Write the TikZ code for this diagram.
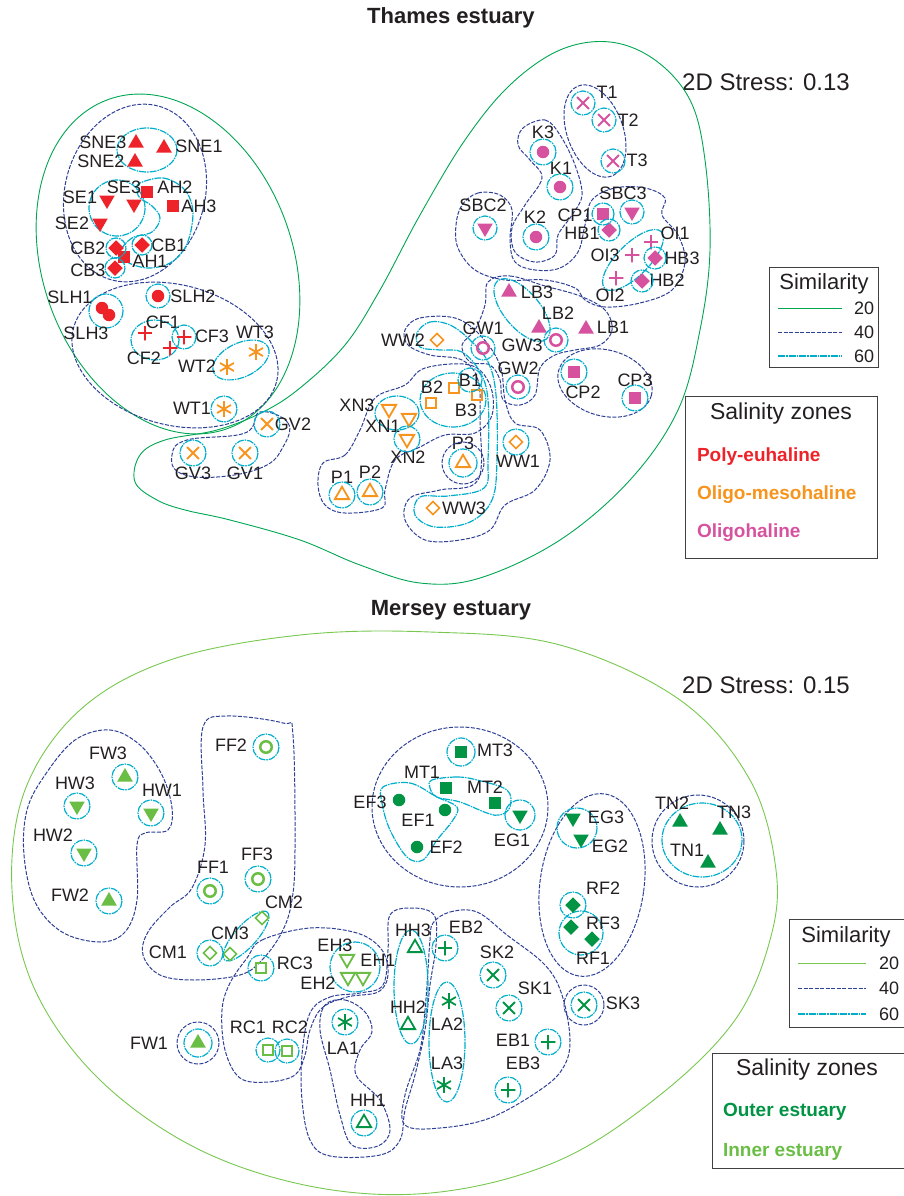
\documentclass[tikz,border=0pt]{standalone}
\usepackage{fontspec}
\setmainfont{Liberation Sans}
\usetikzlibrary{shapes.geometric}
\definecolor{tred}{RGB}{237,35,41}
\definecolor{tora}{RGB}{247,148,29}
\definecolor{tpink}{RGB}{214,82,158}
\definecolor{mdk}{RGB}{0,148,68}
\definecolor{mlt}{RGB}{106,189,69}
\definecolor{gT}{RGB}{0,166,81}
\definecolor{gM}{RGB}{120,200,80}
\definecolor{bl40}{RGB}{46,64,150}
\definecolor{cy60}{RGB}{0,174,204}
\definecolor{txt}{RGB}{35,31,32}
\tikzset{
 mk/.style={inner sep=0pt,outer sep=0pt},
 tU/.style={mk,regular polygon,regular polygon sides=3,minimum size=18pt,fill=#1},
 tD/.style={tU=#1,shape border rotate=180},
 otU/.style={mk,regular polygon,regular polygon sides=3,minimum size=16.5pt,draw=#1,line width=1.8pt},
 otD/.style={otU=#1,shape border rotate=180},
 sqf/.style={mk,rectangle,minimum size=12.5pt,fill=#1},
 sqo/.style={mk,rectangle,minimum size=10.5pt,draw=#1,line width=1.7pt},
 dmf/.style={mk,diamond,minimum size=15.5pt,fill=#1},
 dmo/.style={mk,diamond,minimum size=13pt,draw=#1,line width=1.7pt},
 dotf/.style={mk,circle,minimum size=12.5pt,fill=#1},
 rng/.style={mk,circle,minimum size=11.5pt,draw=#1,line width=2.5pt},
 plm/.style={mk,circle,minimum size=15pt,path picture={\draw[#1,line width=1.8pt] (path picture bounding box.north) -- (path picture bounding box.south) (path picture bounding box.west) -- (path picture bounding box.east);}},
 xmk/.style={mk,circle,minimum size=17pt,path picture={\draw[#1,line width=1.8pt] (path picture bounding box.north east) -- (path picture bounding box.south west) (path picture bounding box.north west) -- (path picture bounding box.south east);}},
 ast/.style={mk,circle,minimum size=17pt,path picture={\foreach \a in {90,30,150} \draw[#1,line width=1.8pt] ([shift={(\a:8pt)}]path picture bounding box.center) -- ([shift={(\a+180:8pt)}]path picture bounding box.center);}},
 lbl/.style={mk,text=txt,font=\fontsize{18}{20}\selectfont},
 s20T/.style={gT,line width=0.9pt},
 s20M/.style={gM,line width=0.9pt},
 s40/.style={bl40,line width=1pt,dash pattern=on 4pt off 1.5pt},
 s60/.style={cy60,line width=1.2pt,dash pattern=on 7pt off 1pt on 1.5pt off 1pt},
}
\newcommand\SP[5]{\node[#1=#2] (#3) at (#4) {}; \node[lbl] (L#3) at (#5) {#3};}
\newcommand\EL[5]{\draw[#1,rotate around={#5:(#2)}] (#2) ellipse[x radius=#3,y radius=#4];}
\begin{document}
\begin{tikzpicture}[x=1pt,y=-1pt]
\useasboundingbox (0,0) rectangle (903,1196);
% ================= THAMES =================
\node[mk,font=\fontsize{22}{24}\selectfont\bfseries,text=txt] (titleT) at (451,18) {Thames estuary};
\node[mk,font=\fontsize{24}{26}\selectfont,text=txt] (stressT) at (766,82) {2D Stress: 0.13};
% 20% contours
\EL{s20T}{168,264}{125}{175}{20}
\draw[s20T] plot[smooth cycle,tension=0.6] coordinates {(263,412) (300,388) (345,345) (380,290) (420,215) (465,140) (510,85) (560,50) (610,42) (655,60) (690,100) (705,160) (710,250) (700,330) (678,410) (630,480) (560,540) (480,578) (420,583) (360,565) (300,540) (230,520) (185,510) (157,500) (135,482) (140,455) (165,440) (217,430)};
% 40% contours
\EL{s40}{135,193}{70}{90}{-15}
\EL{s40}{175,355}{105}{70}{-15}
\draw[s40] plot[smooth cycle,tension=0.7] coordinates {(260,412) (288,423) (283,447) (263,467) (217,477) (180,473) (172,455) (187,440) (245,433)};
\EL{s40}{595,131}{28}{48}{20}
\draw[s40] plot[smooth cycle,tension=0.6] coordinates {(523,128) (545,120) (560,135) (575,165) (582,195) (572,215) (558,235) (555,255) (535,262) (515,252) (512,228) (525,205) (542,178) (530,160) (518,145)};
\draw[s40] plot[smooth cycle,tension=0.6] coordinates {(462,205) (478,193) (500,195) (512,210) (510,240) (515,262) (535,270) (560,268) (578,252) (585,225) (592,200) (615,188) (645,188) (665,198) (662,215) (678,235) (685,262) (672,290) (640,303) (605,307) (585,300) (575,288) (545,280) (505,280) (475,270) (458,248) (456,225)};
\draw[s40] plot[smooth cycle,tension=0.6] coordinates {(488,282) (510,276) (545,286) (580,296) (605,310) (612,330) (600,345) (575,350) (555,355) (540,368) (535,395) (520,405) (503,400) (500,380) (490,365) (470,362) (462,345) (475,330) (485,305)};
\EL{s40}{605,383}{48}{33}{-15}
\draw[s40] plot[smooth cycle,tension=0.6] coordinates {(405,330) (420,318) (455,318) (480,335) (500,365) (505,400) (515,423) (540,430) (550,460) (535,490) (505,505) (490,530) (460,540) (425,540) (405,520) (410,498) (440,490) (478,480) (480,420) (478,380) (462,360) (430,355) (408,345)};
\draw[s40] plot[smooth cycle,tension=0.6] coordinates {(323,463) (345,455) (360,430) (375,398) (405,385) (425,368) (470,365) (490,385) (492,415) (475,433) (445,435) (420,447) (395,460) (385,490) (382,508) (345,513) (325,505) (318,485)};
% 60% contours
\EL{s60}{147,150}{30}{22}{0}
\draw[s60] (117,208) circle[radius=28];
\draw[s60] plot[smooth cycle,tension=0.6] coordinates {(140,183) (163,178) (183,188) (192,205) (192,225) (185,248) (170,263) (148,268) (127,262) (120,252) (132,238) (152,232) (160,218) (152,206) (140,198) (137,190)};
\draw[s60] plot[smooth cycle,tension=0.6] coordinates {(417,333) (430,322) (450,325) (470,340) (488,362) (496,395) (497,460) (492,500) (470,522) (435,527) (415,515) (420,497) (448,496) (484,488) (488,460) (488,400) (480,372) (462,352) (440,350) (420,347)};
\EL{s60}{155,340}{24}{20}{0}
\EL{s60}{241,360}{30}{17}{25}
\EL{s60}{522,310}{38}{18}{-50}
\EL{s60}{633,260}{40}{16}{45}
\EL{s60}{453,400}{33}{27}{0}
\EL{s60}{397,413}{22}{17}{0}
\draw[s60] (106,311) circle[radius=17];
% points Thames
\SP{tU}{tred}{SNE3}{136,143}{103,142}
\SP{tU}{tred}{SNE1}{164,148}{199,146}
\SP{tU}{tred}{SNE2}{135,162}{101,161}
\SP{tD}{tred}{SE3}{134,204}{124,187}
\SP{sqf}{tred}{AH2}{147,192}{175,187}
\SP{tD}{tred}{SE1}{107,200}{80,197}
\SP{sqf}{tred}{AH3}{173,206}{199,206}
\SP{tD}{tred}{SE2}{100,223}{72,223}
\SP{dmf}{tred}{CB2}{116,248}{88,248}
\SP{dmf}{tred}{CB1}{142,245}{169,245}
\SP{sqf}{tred}{AH1}{124,257}{150,261}
\SP{dmf}{tred}{CB3}{115,268}{88,270}
\SP{dotf}{tred}{SLH1}{102,308}{70,297}
\SP{dotf}{tred}{SLH3}{109,315}{86,333}
\SP{dotf}{tred}{SLH2}{158,296}{193,296}
\SP{plm}{tred}{CF1}{145,333}{163,322}
\SP{plm}{tred}{CF2}{170,348}{144,358}
\SP{plm}{tred}{CF3}{184,337}{212,336}
\SP{ast}{tora}{WT3}{256,352}{255,332}
\SP{ast}{tora}{WT2}{227,367}{197,366}
\SP{ast}{tora}{WT1}{224,409}{192,408}
\SP{xmk}{tora}{GV2}{267,424}{293,424}
\SP{xmk}{tora}{GV3}{193,453}{193,473}
\SP{xmk}{tora}{GV1}{245,453}{245,473}
\SP{xmk}{tpink}{T1}{583,103}{607,92}
\SP{xmk}{tpink}{T2}{604,120}{628,120}
\SP{xmk}{tpink}{T3}{613,161}{637,160}
\SP{dotf}{tpink}{K3}{543,152}{543,132}
\SP{dotf}{tpink}{K1}{560,187}{561,168}
\SP{dotf}{tpink}{K2}{536,237}{535,217}
\SP{tD}{tpink}{SBC2}{485,228}{483,205}
\SP{sqf}{tpink}{CP1}{603,214}{575,215}
\SP{dmf}{tpink}{HB1}{609,230}{582,233}
\SP{tD}{tpink}{SBC3}{632,212}{623,193}
\SP{plm}{tpink}{OI1}{651,242}{675,233}
\SP{plm}{tpink}{OI3}{632,255}{605,255}
\SP{dmf}{tpink}{HB3}{655,258}{682,258}
\SP{plm}{tpink}{OI2}{616,278}{610,295}
\SP{dmf}{tpink}{HB2}{642,281}{667,280}
\SP{tU}{tpink}{LB3}{509,292}{537,292}
\SP{tU}{tpink}{LB2}{539,328}{558,313}
\SP{tU}{tpink}{LB1}{586,329}{613,327}
\SP{rng}{tpink}{GW1}{483,348}{483,328}
\SP{rng}{tpink}{GW3}{556,340}{522,345}
\SP{rng}{tpink}{GW2}{518,387}{518,368}
\SP{sqf}{tpink}{CP2}{574,372}{583,392}
\SP{sqf}{tpink}{CP3}{635,398}{635,380}
\SP{dmo}{tora}{WW2}{437,340}{403,340}
\SP{sqo}{tora}{B2}{431,403}{432,387}
\SP{sqo}{tora}{B1}{454,388}{470,380}
\SP{sqo}{tora}{B3}{477,395}{466,410}
\SP{otD}{tora}{XN3}{389,409}{357,405}
\SP{otD}{tora}{XN1}{409,418}{383,426}
\SP{otD}{tora}{XN2}{407,439}{408,457}
\SP{otU}{tora}{P3}{463,463}{463,443}
\SP{otU}{tora}{P1}{342,495}{342,477}
\SP{otU}{tora}{P2}{370,492}{370,472}
\SP{dmo}{tora}{WW1}{516,442}{518,461}
\SP{dmo}{tora}{WW3}{433,508}{464,508}
% single cyan circles Thames
\foreach \n/\r in {CB1/10,CB2/10,CB3/10,SLH2/12,CF3/12,WT1/13,GV1/13,GV2/13,GV3/13,T1/12,T2/12,T3/12,K1/13,K2/13,K3/13,SBC2/12,SBC3/12,CP1/11,HB1/11,HB3/11,HB2/11,LB1/12,GW1/12,GW3/12,GW2/12,CP2/13,CP3/13,XN2/13,P3/14,P1/13,P2/13,WW1/13}
  \draw[s60] (\n) circle[radius=\r];
\draw[s40] (P3) circle[radius=21];
% legends Thames
\draw[black!75,line width=0.8pt] (769,267) rectangle (878,367);
\node[mk,font=\fontsize{22}{24}\selectfont,text=txt] (simT) at (824,284) {Similarity};
\draw[s20T] (778,308) -- (842,308);
\draw[s40] (778,332) -- (842,332);
\draw[s60] (778,356) -- (842,356);
\node[lbl] (s20t) at (864,308) {20};
\node[lbl] (s40t) at (864,332) {40};
\node[lbl] (s60t) at (864,356) {60};
\draw[black!75,line width=0.8pt] (685,396) rectangle (877,558);
\node[mk,font=\fontsize{23}{25}\selectfont,text=txt] (salT) at (781,414) {Salinity zones};
\node[mk,anchor=west,font=\fontsize{19}{21}\selectfont\bfseries,text=tred] (zone1) at (697,457) {Poly-euhaline};
\node[mk,anchor=west,font=\fontsize{19}{21}\selectfont\bfseries,text=tora] (zone2) at (697,495) {Oligo-mesohaline};
\node[mk,anchor=west,font=\fontsize{19}{21}\selectfont\bfseries,text=tpink] (zone3) at (697,533) {Oligohaline};
% ================= MERSEY =================
\node[mk,font=\fontsize{22}{24}\selectfont\bfseries,text=txt] (titleM) at (451,610) {Mersey estuary};
\node[mk,font=\fontsize{24}{26}\selectfont,text=txt] (stressM) at (766,685) {2D Stress: 0.15};
\draw[s20M] plot[smooth cycle,tension=0.6] coordinates {(430,632) (560,645) (680,700) (750,780) (776,870) (770,940) (735,1020) (660,1095) (560,1160) (440,1192) (320,1188) (200,1150) (100,1080) (35,990) (12,890) (25,790) (80,710) (170,660) (300,635)};
% 40%
\draw[s40] plot[smooth cycle,tension=0.6] coordinates {(27,810) (45,775) (75,740) (110,730) (140,745) (162,775) (172,808) (168,830) (145,833) (137,845) (137,900) (125,932) (100,942) (62,932) (35,902) (24,855)};
\draw[s40] plot[smooth cycle,tension=0.6] coordinates {(203,727) (227,716) (283,723) (293,735) (295,850) (292,900) (282,932) (262,960) (240,975) (195,980) (160,975) (143,955) (148,932) (170,907) (192,888) (205,845) (203,790)};
\draw[s40] plot[smooth cycle,tension=0.6] coordinates {(247,958) (262,940) (310,928) (357,933) (382,950) (388,975) (378,992) (347,997) (322,1008) (310,1030) (305,1055) (295,1075) (268,1082) (240,1078) (225,1050) (222,1010) (230,983)};
\draw[s40] plot[smooth cycle,tension=0.6] coordinates {(325,1005) (345,1000) (365,1012) (372,1032) (360,1050) (356,1075) (380,1100) (390,1130) (378,1146) (352,1145) (340,1115) (330,1070) (320,1030)};
\draw[s40] plot[smooth cycle,tension=0.6] coordinates {(310,1013) (330,997) (360,993) (383,985) (388,950) (390,915) (412,908) (434,915) (436,945) (430,985) (425,1030) (415,1075) (405,1110) (400,1140) (380,1155) (330,1156) (310,1140) (302,1100) (302,1055)};
\draw[s40] plot[smooth cycle,tension=0.6] coordinates {(433,923) (450,912) (477,912) (507,935) (545,965) (562,995) (570,1040) (563,1068) (540,1090) (490,1118) (440,1128) (405,1125) (405,1095) (420,1050) (425,1010) (428,970) (430,940)};
\draw[s40] (460,807) ellipse[x radius=88,y radius=80];
\EL{s40}{592,885}{52}{92}{-8}
\draw[s40] (698,841) circle[radius=46];
% 60%
\EL{s60}{246,936}{32}{11}{48}
\EL{s60}{411,987}{17}{57}{0}
\EL{s60}{447,1042}{18}{60}{0}
\draw[s60] (355,967) circle[radius=25];
\draw[s60] (577,828) circle[radius=20];
\draw[s60] (581,933) circle[radius=22];
\EL{s60}{702,840}{40}{37}{0}
\draw[s60] plot[smooth cycle,tension=0.6] coordinates {(432,780) (457,777) (477,780) (507,790) (510,807) (500,815) (487,813) (460,802) (437,797) (430,788)};
\draw[s60] plot[smooth cycle,tension=0.6] coordinates {(383,787) (410,783) (437,797) (457,807) (453,820) (437,840) (423,860) (407,857) (390,830) (382,803)};
% points Mersey
\SP{tU}{mlt}{FW3}{125,777}{108,753}
\SP{tD}{mlt}{HW3}{77,806}{75,783}
\SP{tD}{mlt}{HW1}{151,813}{162,790}
\SP{tD}{mlt}{HW2}{84,853}{53,835}
\SP{tU}{mlt}{FW2}{109,901}{70,895}
\SP{rng}{mlt}{FF2}{266,747}{231,745}
\SP{rng}{mlt}{FF1}{210,891}{213,867}
\SP{rng}{mlt}{FF3}{258,879}{257,854}
\SP{dmo}{mlt}{CM2}{262,918}{284,902}
\SP{dmo}{mlt}{CM3}{230,954}{230,933}
\SP{dmo}{mlt}{CM1}{210,953}{168,952}
\SP{sqo}{mlt}{RC3}{261,968}{295,963}
\SP{otD}{mlt}{EH3}{347,959}{335,945}
\SP{otD}{mlt}{EH1}{363,977}{378,960}
\SP{otD}{mlt}{EH2}{348,977}{318,983}
\SP{sqo}{mlt}{RC1}{268,1050}{248,1027}
\SP{sqo}{mlt}{RC2}{287,1051}{290,1027}
\SP{tU}{mlt}{FW1}{198,1043}{149,1043}
\SP{ast}{mdk}{LA1}{345,1022}{343,1048}
\SP{otU}{mdk}{HH1}{364,1123}{368,1100}
\SP{otU}{mdk}{HH3}{415,948}{413,930}
\SP{otU}{mdk}{HH2}{408,1025}{408,1007}
\SP{ast}{mdk}{LA2}{449,1001}{447,1024}
\SP{ast}{mdk}{LA3}{444,1085}{447,1063}
\SP{plm}{mdk}{EB2}{445,948}{466,927}
\SP{xmk}{mdk}{SK2}{493,975}{497,952}
\SP{xmk}{mdk}{SK1}{509,1008}{535,988}
\SP{plm}{mdk}{EB1}{548,1042}{513,1040}
\SP{plm}{mdk}{EB3}{508,1090}{523,1063}
\SP{xmk}{mdk}{SK3}{584,1005}{623,1003}
\SP{sqf}{mdk}{MT3}{461,752}{495,750}
\SP{sqf}{mdk}{MT1}{446,788}{422,772}
\SP{sqf}{mdk}{MT2}{495,803}{485,787}
\SP{dotf}{mdk}{EF3}{399,800}{370,802}
\SP{dotf}{mdk}{EF1}{445,810}{418,820}
\SP{dotf}{mdk}{EF2}{417,847}{446,847}
\SP{tD}{mdk}{EG1}{520,815}{512,840}
\SP{tD}{mdk}{EG3}{573,818}{606,817}
\SP{tD}{mdk}{EG2}{581,839}{610,846}
\SP{dmf}{mdk}{RF2}{573,905}{603,888}
\SP{dmf}{mdk}{RF3}{571,927}{603,923}
\SP{dmf}{mdk}{RF1}{592,939}{593,958}
\SP{tU}{mdk}{TN2}{680,822}{672,803}
\SP{tU}{mdk}{TN3}{720,830}{734,812}
\SP{tU}{mdk}{TN1}{708,863}{687,850}
\foreach \n/\r in {FW3/13,HW3/13,HW1/13,HW2/13,FW2/13,FF2/13,FF1/13,FF3/13,CM1/13,RC3/13,RC1/12,RC2/12,FW1/14,LA1/13,HH1/13,EB2/13,SK2/13,SK1/13,EB1/13,EB3/13,SK3/13,MT3/14,EG1/15,RF2/13}
  \draw[s60] (\n) circle[radius=\r];
\draw[s40] (FW1) circle[radius=21];
\draw[s40] (SK3) circle[radius=20];
% legends Mersey
\draw[black!75,line width=0.8pt] (789,919) rectangle (906,1027);
\node[mk,font=\fontsize{22}{24}\selectfont,text=txt] (simM) at (846,937) {Similarity};
\draw[s20M] (798,963) -- (866,963);
\draw[s40] (798,988) -- (866,988);
\draw[s60] (798,1014) -- (866,1014);
\node[lbl] (s20m) at (889,963) {20};
\node[lbl] (s40m) at (889,988) {40};
\node[lbl] (s60m) at (889,1014) {60};
\draw[black!75,line width=0.8pt] (712,1053) rectangle (906,1168);
\node[mk,font=\fontsize{23}{25}\selectfont,text=txt] (salM) at (807,1070) {Salinity zones};
\node[mk,anchor=west,font=\fontsize{19}{21}\selectfont\bfseries,text=mdk] (zone4) at (723,1112) {Outer estuary};
\node[mk,anchor=west,font=\fontsize{19}{21}\selectfont\bfseries,text=mlt] (zone5) at (723,1152) {Inner estuary};
\end{tikzpicture}
\end{document}
